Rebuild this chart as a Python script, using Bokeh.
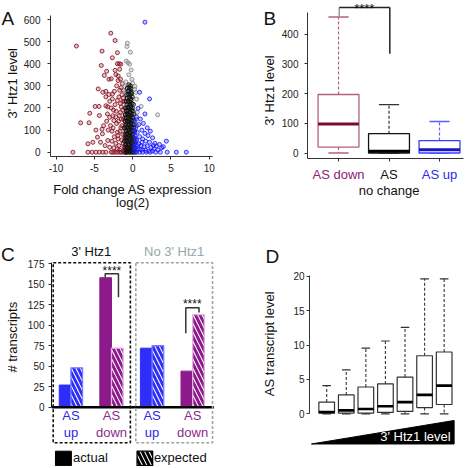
import math
from bokeh.plotting import figure
from bokeh.models import Range1d, FixedTicker
from bokeh.layouts import column, row
from bokeh.core.properties import value
from bokeh.embed import file_html
from bokeh.resources import INLINE

FONT = "Liberation Sans"

# ---------------- Panel A data (fold change log2, 3' Htz1 level) ----------------
down_pts = [(-7.35,480),(-2.86,538),(-2.3,505),(-4.0,457),(-2.0,450),(-4.1,392),(-2.65,427),(-2.0,400),
            (-1.75,400),(-1.55,398),(-3.4,366),(-3.7,347),(-2.2,351),(-2.8,332),(-3.1,330),(-1.9,324),
            (-4.5,286),(-3.9,271),(-3.5,275),(-3.1,261),(-2.65,263),(-1.7,280),(-1.5,292),(-3.5,250),
            (-2.65,241),(-2.0,234),(-4.9,207),(-4.4,207),(-3.5,210),(-3.25,205),(-5.6,176),(-6.8,133),
            (-5.7,133),(-4.35,166),(-3.3,173),(-3.0,158),(-2.45,143),(-4.8,100),(-4.0,104),(-4.6,68),
            (-3.95,83),(-5.85,38),(-5.2,45),(-7.8,0),(-5.85,0),(-5.3,0),(-4.8,0),(-4.35,0),(-3.9,0),
            (-3.25,53),(-3.0,22),(-2.6,0),(-2.9,120),(-2.7,95),(-2.5,190),(-2.3,215),(-2.2,160),
            (-2.1,130),(-2.0,90),(-1.9,60),(-1.8,30),(-1.7,10),(-1.6,180),(-1.5,150),(-1.4,120),
            (-1.3,80),(-1.25,40),(-1.2,5),(-1.1,230),(-1.05,200),(-1.0,170),(-0.95,140),(-0.9,100),
            (-0.85,60),(-0.8,20),(-2.4,70),(-2.2,40),(-2.0,15),(-1.8,250),(-1.6,220),(-1.4,260),
            (-1.3,190),(-1.2,150),(-1.1,110),(-1.0,70),(-0.9,30),(-0.85,0),(-1.0,0),(-1.2,0),(-1.5,0),
            (-1.7,0),(-2.0,0),(-2.3,0),(-2.8,0),(-3.5,0),(-3.2,100),(-3.4,140),(-2.6,165),(-2.8,200),
            (-3.0,230),(-2.4,275),(-2.1,300),(-1.9,345),(-1.35,310),(-1.2,280),(-3.6,30),(-4.2,45),
            (-3.8,120),(-2.55,110),(-1.65,95),(-1.45,55),(-1.15,25),(-2.15,185),(-1.85,140),(-1.55,110),
            (-0.75,45),(-0.7,85),(-0.95,120),(-1.05,155),(-0.8,190),(-1.3,230),(-2.7,50),(-2.45,20),
            (-1.95,75),(-1.75,165),(-1.5,205),(-1.25,245),(-1.6,330),(-2.3,370),(-1.7,375)]

nochange_pts = [(-0.9,0),(-0.7,0),(-0.5,0),(-0.3,0),(-0.1,0),(0.1,0),(0.3,0),
                (-0.8,8),(-0.6,10),(-0.4,6),(-0.2,12),(0.0,8),(0.2,10),
                (-1.0,20),(-0.7,22),(-0.5,18),(-0.3,25),(-0.1,20),(0.1,24),(0.3,18),
                (-0.9,35),(-0.6,38),(-0.4,32),(-0.2,40),(0.0,35),(0.2,38),
                (-1.1,50),(-0.8,52),(-0.5,48),(-0.3,55),(-0.1,50),(0.1,52),(0.35,47),
                (-0.9,65),(-0.7,68),(-0.4,62),(-0.2,70),(0.0,66),(0.2,63),
                (-1.0,80),(-0.75,84),(-0.5,78),(-0.3,85),(-0.1,80),(0.1,82),
                (-0.85,95),(-0.6,98),(-0.4,92),(-0.2,100),(0.0,96),(0.25,94),
                (-1.05,110),(-0.75,112),(-0.5,108),(-0.3,115),(-0.1,110),(0.15,112),
                (-0.9,125),(-0.65,128),(-0.45,122),(-0.25,130),(-0.05,126),(0.2,124),
                (-1.0,140),(-0.7,142),(-0.5,138),(-0.3,145),(-0.1,140),(0.1,143),
                (-0.85,155),(-0.6,158),(-0.4,152),(-0.2,160),(0.0,156),
                (-0.95,170),(-0.7,172),(-0.5,168),(-0.3,175),(-0.1,170),(0.15,172),
                (-0.8,185),(-0.55,188),(-0.35,182),(-0.15,190),(0.05,186),
                (-0.9,200),(-0.65,202),(-0.45,198),(-0.25,205),(-0.05,200),
                (-0.75,215),(-0.5,218),(-0.3,212),(-0.1,220),(0.1,216),
                (-0.85,230),(-0.6,232),(-0.4,228),(-0.2,235),
                (-0.7,245),(-0.45,248),(-0.25,242),(-0.05,250),
                (-0.8,260),(-0.55,262),(-0.35,258),(-0.15,265),
                (-0.6,275),(-0.4,278),(-0.2,272),
                (-0.7,290),(-0.45,292),(-0.25,288),
                (-0.5,305),(-0.3,300)]

grey_pts = [(-0.7,493),(-0.75,478),(-0.3,452),(-0.85,412),(-0.6,405),(-0.4,398),(-0.2,372),(-0.5,350),
            (-0.1,330),(1.1,207),(3.25,169),(-0.9,318),(0.0,312),(0.3,298),(0.4,270),(-1.1,296),
            (0.5,240),(0.6,180),(0.45,150),(-0.95,268),(0.25,285),(0.55,120)]

up_pts = [(1.6,588),(0.9,271),(2.2,241),(1.6,173),(0.7,198),(0.5,160),(1.0,150),(1.4,130),(0.3,140),
          (0.8,125),(1.9,110),(2.3,95),(0.4,110),(1.2,100),(0.6,90),(1.6,85),(2.0,75),(2.6,65),
          (0.3,75),(0.9,70),(1.3,60),(0.5,55),(1.7,50),(2.2,45),(2.9,40),(3.5,35),(4.4,50),(0.3,40),
          (0.8,38),(1.1,30),(1.5,25),(1.9,28),(2.4,22),(2.8,15),(3.1,28),(3.8,20),(4.0,25),(0.4,20),
          (0.7,15),(1.0,12),(1.3,10),(1.7,8),(2.1,5),(2.6,5),(0.2,5),(0.5,0),(0.9,0),(1.3,0),(1.8,0),
          (2.3,0),(3.0,0),(3.6,0),(4.5,0),(5.7,0),(7.0,0),(0.25,95),(0.35,60),(0.6,30),(1.2,45),
          (0.2,25),(2.7,30),(3.3,10)]

a_xticks = [-10, -5, 0, 5, 10]
a_yticks = [0, 100, 200, 300, 400, 500, 600]

# ---------------- Panel B data (boxplot stats of 3' Htz1 level) ----------------
b_cats = ["AS down", "AS", "AS up"]
b_low = [0, 0, 0]
b_q1 = [20, 0, 0]
b_med = [98, 6, 11]
b_q3 = [197, 65, 42]
b_high = [458, 163, 106]
b_yticks = [0, 100, 200, 300, 400]

# ---------------- Panel C data (# transcripts) ----------------
c_groups = ["AS up", "AS down", "AS up", "AS down"]
c_actual = [27, 158, 72, 44]
c_expected = [48, 72, 75, 113]
c_yticks = [0, 25, 50, 75, 100, 125, 150, 175]

# ---------------- Panel D data (AS transcript level by Htz1 bin) ----------------
d_low = [0, 0, 0, 0, 0, 0, 0]
d_q1 = [0.1, 0.1, 0.1, 0.2, 0.35, 0.9, 1.35]
d_med = [0.25, 0.5, 0.7, 1.1, 1.7, 2.75, 4.1]
d_q3 = [1.7, 2.75, 3.9, 4.35, 5.35, 8.45, 9.0]
d_high = [4.1, 6.4, 9.55, 10.6, 12.6, 19.65, 19.65]
d_yticks = [0, 5, 10, 15, 20]


def txt(p, x, y, s, size="13px", color="#111111", align="center", baseline="middle", angle=0.0):
    p.text(x=[x], y=[y], text=[s], text_font=value(FONT), text_font_size=value(size),
           text_color=color, text_align=align, text_baseline=baseline, angle=angle)


def style_axis(ax, standoff, size="10px"):
    ax.axis_line_color = "#333333"
    ax.major_tick_line_color = "#333333"
    ax.minor_tick_line_color = None
    ax.major_tick_out = 3
    ax.major_tick_in = 0
    ax.major_label_standoff = standoff
    ax.major_label_text_font = FONT
    ax.major_label_text_font_size = size
    ax.major_label_text_color = "#222222"


def base_fig(w, h, xr, yr, left, right, top, bottom, xloc="below", yloc="left"):
    p = figure(width=w, height=h, x_range=xr, y_range=yr,
               output_backend="svg", toolbar_location=None, x_axis_location=xloc, y_axis_location=yloc,
               min_border_left=left, min_border_right=right, min_border_top=top,
               min_border_bottom=bottom)
    p.outline_line_color = None
    p.grid.visible = False
    p.background_fill_color = None
    p.border_fill_color = None
    return p


def gutter(w, h, xr, yr, left=0, right=0):
    return base_fig(w, h, xr, yr, left, right, 0, 0, xloc=None, yloc=None)


# ================= Panel A =================
xrA = Range1d(-10.73, 10.42)
pA = base_fig(220, 176, xrA, Range1d(-19.4, 618.1), 27, 28, 15, 20)
style_axis(pA.xaxis[0], 4)
style_axis(pA.yaxis[0], 7)
pA.xaxis.ticker = FixedTicker(ticks=a_xticks)
pA.xaxis.major_label_overrides = {t: str(t) for t in a_xticks}
pA.yaxis.ticker = FixedTicker(ticks=a_yticks)

for pts, col in ((down_pts, "#8b1a2b"), (grey_pts, "#8c8c8c"), (nochange_pts, "#111111"), (up_pts, "#1f1fff")):
    xs = [q[0] for q in pts]
    ys = [q[1] for q in pts]
    pA.scatter(xs, ys, size=4.0, line_color=col, line_width=0.9, fill_color=col, fill_alpha=0.25)

gA_below = gutter(220, 36, xrA, Range1d(212, 176), left=27, right=28)
txt(gA_below, 0.0, 189.3, "Fold change AS expression")
txt(gA_below, 0.0, 201.7, "log(2)")

gA_left = gutter(20, 212, Range1d(0, 20), Range1d(212, 0))
txt(gA_left, 1, 18, "A", size="19px", align="left", baseline="alphabetic")
txt(gA_left, 12, 82.7, "3' Htz1 level", angle=math.pi / 2)

# ================= Panel B =================
xrB = Range1d(0.386, 3.475)
pB = base_fig(192, 164, xrB, Range1d(-18.5, 513.5), 28, 7, 0, 6)
style_axis(pB.xaxis[0], 2)
style_axis(pB.yaxis[0], 6)
pB.yaxis.ticker = FixedTicker(ticks=b_yticks)
pB.yaxis.bounds = (-18.5, 474)
pB.xaxis.ticker = FixedTicker(ticks=[], minor_ticks=[1, 2, 3])
pB.xaxis.minor_tick_line_color = "#333333"
pB.xaxis.minor_tick_out = 3
pB.xaxis.minor_tick_in = 0

b_x = [1, 2, 3]
b_box_col = ["#b4607e", "#111111", "#3b3bff"]
b_wh_col = ["#b4607e", "#333333", "#5c5cff"]
b_med_col = ["#7a0c2e", "#000000", "#1616c8"]
b_lab_col = ["#8a2374", "#111111", "#2b2bea"]
bw = 0.81
for i in range(3):
    x = b_x[i]
    pB.segment([x], [b_q3[i]], [x], [b_high[i]], line_color=b_wh_col[i], line_width=1.2, line_dash="3 2")
    pB.segment([x], [b_q1[i]], [x], [b_low[i]], line_color=b_wh_col[i], line_width=1.2, line_dash="3 2")
    pB.segment([x - 0.2, x - 0.2], [b_high[i], b_low[i]], [x + 0.2, x + 0.2], [b_high[i], b_low[i]],
               line_color=b_wh_col[i], line_width=1.3)
    pB.quad(left=[x - bw / 2], right=[x + bw / 2], bottom=[b_q1[i]], top=[b_q3[i]],
            fill_color="white", line_color=b_box_col[i], line_width=1.3)
    pB.segment([x - bw / 2], [b_med[i]], [x + bw / 2], [b_med[i]], line_color=b_med_col[i], line_width=3)

# significance bracket
pB.segment([1.014], [490], [1.014], [458], line_color="#9a9a9a", line_width=1.5)
pB.segment([1.014], [490], [2.016], [490], line_color="#222222", line_width=1.5)
pB.segment([2.016], [490], [2.016], [334], line_color="#222222", line_width=1.5)
txt(pB, 1.51, 513.0, "****", size="13px", baseline="top")

gB_below = gutter(192, 48, xrB, Range1d(212, 164), left=28, right=7)
for i in range(3):
    txt(gB_below, b_x[i], 173.5, b_cats[i], color=b_lab_col[i])
txt(gB_below, 2, 189.5, "no change")

gB_left = gutter(38, 212, Range1d(240, 278), Range1d(212, 0))
txt(gB_left, 263, 18, "B", size="19px", align="left", baseline="alphabetic")
txt(gB_left, 269.3, 90, "3' Htz1 level", angle=math.pi / 2)

# ================= Panel C =================
pC = base_fig(216, 254, Range1d(0.522, 5.179), Range1d(-72.4, 237.6), 26, 0, 0, 0, xloc=None)
style_axis(pC.yaxis[0], 4)
pC.yaxis.ticker = FixedTicker(ticks=c_yticks)
pC.yaxis.bounds = (0, 177)
pC.yaxis.axis_line_color = "#111111"

c_x = [1, 2, 3, 4]
c_solid = {"AS up": "#2e2efa", "AS down": "#8c1a8a"}
c_edge = {"AS up": "#7a7aff", "AS down": "#e2b2e2"}
c_text = {"AS up": "#2a2ae6", "AS down": "#8c2a8a"}
half = 0.287
for i in range(4):
    g = c_groups[i]
    x = c_x[i]
    pC.quad(left=[x - half], right=[x], bottom=[0], top=[c_actual[i]],
            fill_color=c_solid[g], line_color=c_solid[g], line_width=1)
    pC.quad(left=[x], right=[x + half], bottom=[0], top=[c_expected[i]],
            fill_color="white", line_color=c_edge[g], line_width=1.3,
            hatch_pattern="\\", hatch_color=c_solid[g], hatch_weight=3, hatch_scale=9)
    txt(pC, x, -10.1, "AS", color=c_text[g])
    txt(pC, x, -30.5, g.split(" ")[1], color=c_text[g])

# baseline (x axis line)
pC.segment([0.522], [0], [4.525], [0], line_color="#000000", line_width=2.5)

# dashed group boxes
pC.quad(left=[0.564], right=[2.466], bottom=[-43.5], top=[176.2], fill_color=None,
        line_color="#111111", line_width=1.6, line_dash="3 2")
pC.quad(left=[2.60], right=[4.49], bottom=[-43.5], top=[176.2], fill_color=None,
        line_color="#97a6aa", line_width=1.6, line_dash="3 2")

# significance brackets
pC.multi_line([[1.846, 1.846, 2.172, 2.172], [3.831, 3.831, 4.157, 4.157]],
              [[158.6, 162.8, 162.8, 134.2], [90.3, 121.3, 121.3, 115.6]],
              line_color="#333333", line_width=1.5)
txt(pC, 2.01, 166.8, "****", size="12px")
txt(pC, 3.99, 125.7, "****", size="12px")

txt(pC, 1.502, 190, "3' Htz1")
txt(pC, 3.544, 190, "No 3' Htz1", color="#97a6aa")

# legend
pC.quad(left=[0.62], right=[1.012], bottom=[-71.5], top=[-53.7], fill_color="#000000", line_color="#000000")
txt(pC, 1.054, -62.0, "actual", align="left")
pC.quad(left=[2.63], right=[3.015], bottom=[-71.5], top=[-53.7], fill_color="white", line_color="#000000",
        line_width=1.3, hatch_pattern="\\", hatch_color="#000000", hatch_weight=3, hatch_scale=9)
txt(pC, 3.045, -62.0, "expected", align="left")

gC_left = gutter(24, 254, Range1d(0, 24), Range1d(466, 212))
txt(gC_left, 0.5, 254, "C", size="19px", align="left", baseline="alphabetic")
txt(gC_left, 11.7, 336.7, "# transcripts", angle=math.pi / 2)

# ================= Panel D =================
pD = base_fig(180, 254, Range1d(0.122, 8.345), Range1d(-7.68, 29.32), 18, 0, 0, 0, xloc=None)
style_axis(pD.yaxis[0], 2)
pD.yaxis.ticker = FixedTicker(ticks=d_yticks)
pD.yaxis.bounds = (0, 20.15)

dw = 0.8
for i in range(7):
    x = i + 1
    pD.segment([x], [d_q3[i]], [x], [d_high[i]], line_color="#444444", line_width=1.2, line_dash="3 2")
    pD.segment([x], [d_q1[i]], [x], [d_low[i]], line_color="#444444", line_width=1.2, line_dash="3 2")
    pD.segment([x - 0.22, x - 0.22], [d_high[i], d_low[i]], [x + 0.22, x + 0.22], [d_high[i], d_low[i]],
               line_color="#333333", line_width=1.2)
    pD.quad(left=[x - dw / 2], right=[x + dw / 2], bottom=[d_q1[i]], top=[d_q3[i]],
            fill_color="white", line_color="#333333", line_width=1.2)
    pD.segment([x - dw / 2], [d_med[i]], [x + dw / 2], [d_med[i]], line_color="#000000", line_width=2.6)

pD.patch([0.223, 7.508, 7.508], [-4.40, -0.976, -4.40], fill_color="#000000", line_color="#000000")
txt(pD, 7.33, -3.38, "3' Htz1 level", color="#ffffff", align="right")

gD_left = gutter(50, 254, Range1d(240, 290), Range1d(466, 212))
txt(gD_left, 265, 256, "D", size="19px", align="left", baseline="alphabetic")
txt(gD_left, 269.3, 343.3, "AS transcript level", angle=math.pi / 2)

top = row(gA_left, column(pA, gA_below), gB_left, column(pB, gB_below))
bottom = row(gC_left, pC, gD_left, pD)
layout = column(top, bottom)
open("out.html", "w").write(file_html(layout, INLINE))
